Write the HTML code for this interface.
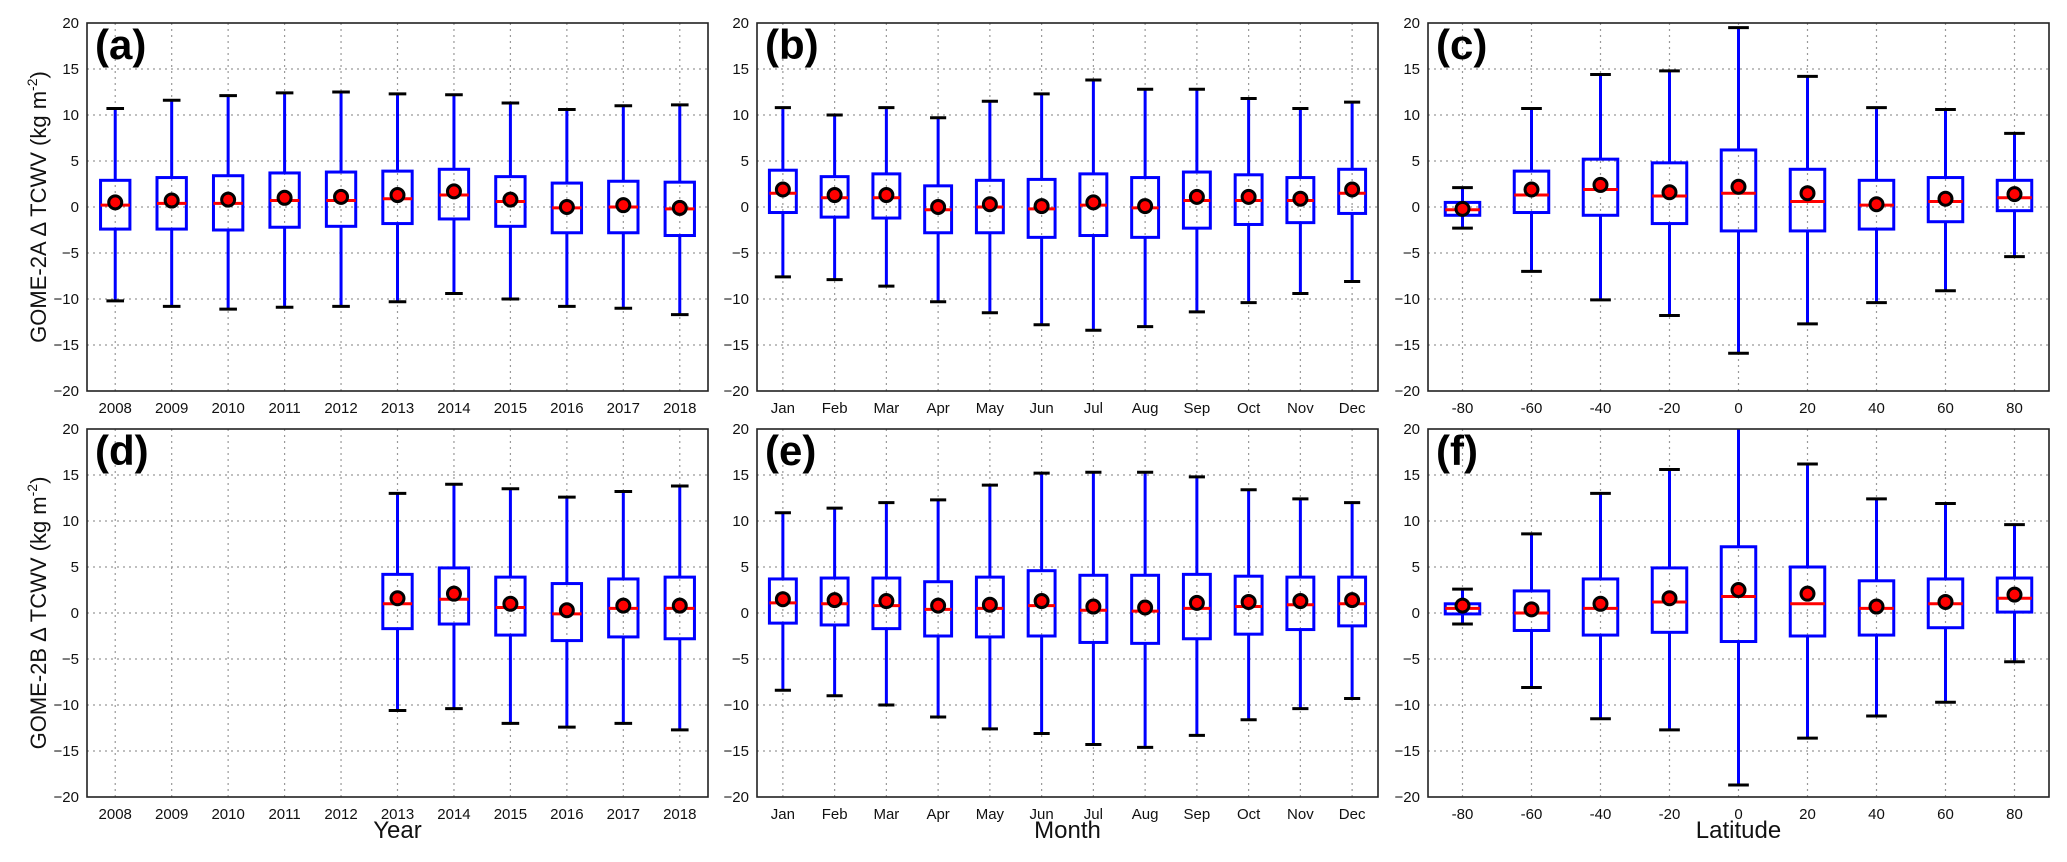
<!DOCTYPE html>
<html><head><meta charset="utf-8"><style>
html,body{margin:0;padding:0;background:#fff;}
svg text{font-family:"Liberation Sans","DejaVu Sans",sans-serif;}
</style></head><body>
<svg id="c" width="2067" height="857" xmlns="http://www.w3.org/2000/svg"></svg>
<script>
// Data arrays: [whiskerHigh, q3, median, q1, whiskerLow, mean]
const years = ["2008","2009","2010","2011","2012","2013","2014","2015","2016","2017","2018"];
const months = ["Jan","Feb","Mar","Apr","May","Jun","Jul","Aug","Sep","Oct","Nov","Dec"];
const lats = [-80,-60,-40,-20,0,20,40,60,80];
const yTicks = [-20,-15,-10,-5,0,5,10,15,20];
const statsA = [[10.7,2.9,0.2,-2.4,-10.2,0.5],[11.6,3.2,0.4,-2.4,-10.8,0.7],[12.1,3.4,0.4,-2.5,-11.1,0.8],[12.4,3.7,0.7,-2.2,-10.9,1.0],[12.5,3.8,0.7,-2.1,-10.8,1.1],[12.3,3.9,0.9,-1.8,-10.3,1.3],[12.2,4.1,1.3,-1.3,-9.4,1.7],[11.3,3.3,0.6,-2.1,-10.0,0.8],[10.6,2.6,-0.1,-2.8,-10.8,0.0],[11.0,2.8,0.0,-2.8,-11.0,0.2],[11.1,2.7,-0.2,-3.1,-11.7,-0.1]];
const statsB = [[10.8,4.0,1.5,-0.6,-7.6,1.9],[10.0,3.3,1.0,-1.1,-7.9,1.3],[10.8,3.6,1.0,-1.2,-8.6,1.3],[9.7,2.3,-0.3,-2.8,-10.3,0.0],[11.5,2.9,0.0,-2.8,-11.5,0.3],[12.3,3.0,-0.2,-3.3,-12.8,0.1],[13.8,3.6,0.2,-3.1,-13.4,0.5],[12.8,3.2,-0.1,-3.3,-13.0,0.1],[12.8,3.8,0.7,-2.3,-11.4,1.1],[11.8,3.5,0.7,-1.9,-10.4,1.1],[10.7,3.2,0.7,-1.7,-9.4,0.9],[11.4,4.1,1.5,-0.7,-8.1,1.9]];
const statsC = [[2.1,0.5,-0.3,-0.9,-2.3,-0.2],[10.7,3.9,1.3,-0.6,-7.0,1.9],[14.4,5.2,1.9,-0.9,-10.1,2.4],[14.8,4.8,1.2,-1.8,-11.8,1.6],[19.5,6.2,1.5,-2.6,-15.9,2.2],[14.2,4.1,0.6,-2.6,-12.7,1.5],[10.8,2.9,0.2,-2.4,-10.4,0.3],[10.6,3.2,0.6,-1.6,-9.1,0.9],[8.0,2.9,1.0,-0.4,-5.4,1.4]];
const statsD = [null,null,null,null,null,[13.0,4.2,1.0,-1.7,-10.6,1.6],[14.0,4.9,1.5,-1.2,-10.4,2.1],[13.5,3.9,0.6,-2.4,-12.0,1.0],[12.6,3.2,-0.1,-3.0,-12.4,0.3],[13.2,3.7,0.5,-2.6,-12.0,0.8],[13.8,3.9,0.5,-2.8,-12.7,0.8]];
const statsE = [[10.9,3.7,1.1,-1.1,-8.4,1.5],[11.4,3.8,1.0,-1.3,-9.0,1.4],[12.0,3.8,0.8,-1.7,-10.0,1.3],[12.3,3.4,0.4,-2.5,-11.3,0.8],[13.9,3.9,0.5,-2.6,-12.6,0.9],[15.2,4.6,0.8,-2.5,-13.1,1.3],[15.3,4.1,0.3,-3.2,-14.3,0.7],[15.3,4.1,0.2,-3.3,-14.6,0.6],[14.8,4.2,0.5,-2.8,-13.3,1.1],[13.4,4.0,0.7,-2.3,-11.6,1.2],[12.4,3.9,0.9,-1.8,-10.4,1.3],[12.0,3.9,1.0,-1.4,-9.3,1.4]];
const statsF = [[2.6,1.0,0.5,-0.1,-1.2,0.8],[8.6,2.4,0.0,-1.9,-8.1,0.4],[13.0,3.7,0.5,-2.4,-11.5,1.0],[15.6,4.9,1.2,-2.1,-12.7,1.6],[21.0,7.2,1.8,-3.1,-18.7,2.5],[16.2,5.0,1.0,-2.5,-13.6,2.1],[12.4,3.5,0.5,-2.4,-11.2,0.7],[11.9,3.7,1.0,-1.6,-9.7,1.2],[9.6,3.8,1.6,0.1,-5.3,2.0]];

const NS="http://www.w3.org/2000/svg";
const svg=document.getElementById('c');
function mk(tag,attrs,parent){const e=document.createElementNS(NS,tag);for(const k in attrs)e.setAttribute(k,attrs[k]);(parent||svg).appendChild(e);return e;}

const W=621, tops=[23,429], H=368, lefts=[87,757,1428];
function panel(col,row,letter,kind,stats){
  const L=lefts[col], T=tops[row], B=T+H, R=L+W;
  const g=mk('g',{});
  
  
  const clipId='clip'+letter;
  const cp=mk('clipPath',{id:clipId},g); mk('rect',{x:L,y:T,width:W,height:H},cp);
  const yS=v=>B-(v+20)/40*H;
  let cats, xS, bw;
  if(kind==='lat'){cats=lats;xS=v=>L+(v+90)/180*W;bw=10/180*W;}
  else{cats=kind==='year'?years:months;const n=cats.length;xS=i=>L+(i+0.5)*W/n;bw=0.52*W/n;}
  // grid
  yTicks.forEach(t=>{
    const y=yS(t);
    if(t>-20&&t<20){const gl=mk('line',{x1:L,x2:R,y1:y,y2:y,stroke:'#999','stroke-width':1.2,'stroke-dasharray':'2,4'},g);
    }
    const tx=mk('text',{x:L-8,y:y+5,'text-anchor':'end','font-size':15,fill:'#111'},g);
    tx.textContent=t<0?'\u2212'+(-t):String(t);
    
  });
  cats.forEach((c,i)=>{
    const x=kind==='lat'?xS(c):xS(i);
    const gl=mk('line',{x1:x,x2:x,y1:T,y2:B,stroke:'#999','stroke-width':1.2,'stroke-dasharray':'2,4'},g);
    
    const tx=mk('text',{x:x,y:B+22,'text-anchor':'middle','font-size':15,fill:'#111'},g);
    tx.textContent=String(c);
    
  });
  // boxes
  const bg=mk('g',{'clip-path':'url(#'+clipId+')'},g);
  stats.forEach((s,i)=>{
    if(!s)return;
    const x=kind==='lat'?xS(cats[i]):xS(i);
    const bx=mk('g',{},bg);
    
    
    const cw=bw*0.6;
    mk('line',{x1:x,x2:x,y1:yS(s[0]),y2:yS(s[1]),stroke:'#0000ff','stroke-width':3},bx);
    mk('line',{x1:x,x2:x,y1:yS(s[3]),y2:yS(s[4]),stroke:'#0000ff','stroke-width':3},bx);
    mk('line',{x1:x-cw/2,x2:x+cw/2,y1:yS(s[0]),y2:yS(s[0]),stroke:'#000','stroke-width':3},bx);
    mk('line',{x1:x-cw/2,x2:x+cw/2,y1:yS(s[4]),y2:yS(s[4]),stroke:'#000','stroke-width':3},bx);
    mk('rect',{x:x-bw/2,y:yS(s[1]),width:bw,height:yS(s[3])-yS(s[1]),fill:'none',stroke:'#0000ff','stroke-width':3},bx);
    mk('line',{x1:x-bw/2,x2:x+bw/2,y1:yS(s[2]),y2:yS(s[2]),stroke:'#ff0000','stroke-width':3},bx);
    mk('circle',{cx:x,cy:yS(s[5]),r:6.5,fill:'#ff0000',stroke:'#000','stroke-width':3},bx);
  });
  const fr=mk('rect',{x:L,y:T,width:W,height:H,fill:'none',stroke:'#222','stroke-width':1.6},g);
  
  const lt=mk('text',{x:L+8,y:T+36,'font-size':42,'font-weight':'bold',fill:'#000'},g);
  lt.textContent='('+letter+')';
  
}
panel(0,0,'a','year',statsA);
panel(1,0,'b','month',statsB);
panel(2,0,'c','lat',statsC);
panel(0,1,'d','year',statsD);
panel(1,1,'e','month',statsE);
panel(2,1,'f','lat',statsF);

function ytitle(cy,name,label){
  const t=mk('text',{x:0,y:0,transform:'translate(46,'+cy+') rotate(-90)','text-anchor':'middle','font-size':22,fill:'#111'});
  
  t.innerHTML=label+' \u0394 TCWV (kg m<tspan dy="-9" font-size="14">-2</tspan><tspan dy="9">)</tspan>';
}
ytitle(23+184,'y-axis-title-top','GOME-2A');
ytitle(429+184,'y-axis-title-bottom','GOME-2B');
[['Year',0],['Month',1],['Latitude',2]].forEach(([s,i])=>{
  const t=mk('text',{x:lefts[i]+W/2,y:838,'text-anchor':'middle','font-size':24,fill:'#111'});
  t.textContent=s;
  
  
});
</script>
</body></html>
